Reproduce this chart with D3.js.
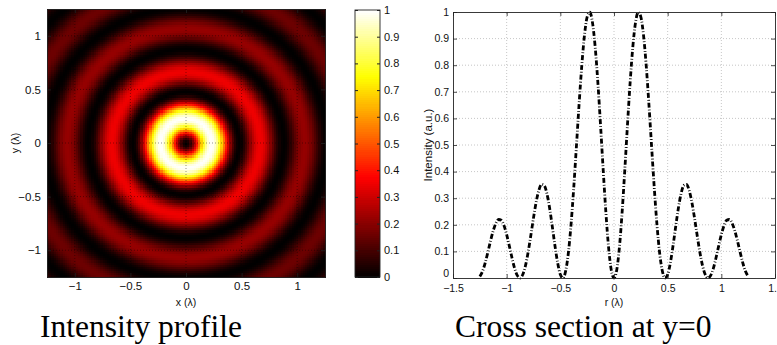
<!DOCTYPE html>
<html>
<head>
<meta charset="utf-8">
<script src="https://cdn.jsdelivr.net/npm/d3@7/dist/d3.min.js"></script>
<style>
  body { margin: 0; background: #fff; }
  svg { display: block; }
  text { font-family: "Liberation Sans", Arial, sans-serif; fill: #111; }
  .title { font-family: "Liberation Serif", "Times New Roman", serif; font-size: 31.5px; fill: #000; }
</style>
</head>
<body>
<svg id="chart" width="777" height="345"></svg>
<script>
const radius = [
  0, 0.025, 0.05, 0.075, 0.1, 0.125, 0.15, 0.175, 0.2, 0.225,
  0.25, 0.275, 0.3, 0.325, 0.35, 0.375, 0.4, 0.425, 0.45, 0.475,
  0.5, 0.525, 0.55, 0.575, 0.6, 0.625, 0.65, 0.675, 0.7, 0.725,
  0.75, 0.775, 0.8, 0.825, 0.85, 0.875, 0.9, 0.925, 0.95, 0.975,
  1.0, 1.025, 1.05, 1.075, 1.1, 1.125, 1.15, 1.175, 1.2, 1.225,
  1.25, 1.275, 1.3, 1.325, 1.35, 1.375, 1.4, 1.425, 1.45, 1.475,
  1.5, 1.525, 1.55, 1.575, 1.6, 1.625, 1.65, 1.675, 1.7, 1.725,
  1.75, 1.775, 1.8
];
const intensity = [
  0, 0.029, 0.113, 0.243, 0.402, 0.572, 0.733, 0.867, 0.959, 0.999,
  0.982, 0.913, 0.799, 0.655, 0.496, 0.340, 0.202, 0.095, 0.027, 0.000,
  0.013, 0.057, 0.121, 0.194, 0.263, 0.317, 0.348, 0.352, 0.330, 0.286,
  0.226, 0.160, 0.097, 0.046, 0.013, 0.000, 0.009, 0.035, 0.075, 0.120,
  0.163, 0.197, 0.217, 0.220, 0.206, 0.178, 0.140, 0.097, 0.057, 0.025,
  0.006, 0.000, 0.009, 0.030, 0.060, 0.092, 0.123, 0.146, 0.159, 0.159,
  0.147, 0.125, 0.096, 0.065, 0.037, 0.015, 0.002, 0.001, 0.010, 0.028,
  0.053, 0.079, 0.104
];
const crossMax = 1.25; // cross section is plotted for |r| <= 1.25

const mapTicks = [-1, -0.5, 0, 0.5, 1];
const colorbarTicks = [0, 0.1, 0.2, 0.3, 0.4, 0.5, 0.6, 0.7, 0.8, 0.9, 1];
const crossTicksX = [-1.5, -1, -0.5, 0, 0.5, 1, 1.5];
const crossTicksY = [0, 0.1, 0.2, 0.3, 0.4, 0.5, 0.6, 0.7, 0.8, 0.9, 1];
const titles = ["Intensity profile", "Cross section at y=0"];

const svg = d3.select("#chart");
const fmt = d => d3.format("")(d).replace("-", "\u2212");

// matlab "hot" colormap
const hot = d3.scaleLinear()
  .domain([0, 0.375, 0.75, 1])
  .range(["#000000", "#ff0000", "#ffff00", "#ffffff"])
  .clamp(true);

const profile = d3.scaleLinear().domain(radius).range(intensity).clamp(true);

// ---------- left: intensity map ----------
const mapX = d3.scaleLinear().domain([-1.25, 1.25]).range([47, 325]);
const mapY = d3.scaleLinear().domain([-1.25, 1.25]).range([277, 9]);

const step = 0.02;
const cells = [];
for (let gx = -1.25; gx < 1.25 - 1e-9; gx += step) {
  for (let gy = -1.25; gy < 1.25 - 1e-9; gy += step) {
    const cx = gx + step / 2, cy = gy + step / 2;
    cells.push({ x: gx, y: gy, v: profile(Math.hypot(cx, cy)) });
  }
}
const cw = mapX(step) - mapX(0), ch = mapY(0) - mapY(step);

svg.append("g")
  .attr("shape-rendering", "crispEdges")
  .selectAll("rect")
  .data(cells)
  .join("rect")
  .attr("x", d => mapX(d.x))
  .attr("y", d => mapY(d.y + step))
  .attr("width", cw + 0.6)
  .attr("height", ch + 0.6)
  .attr("fill", d => hot(d.v));

// dotted grid over the image
const mapGrid = svg.append("g")
  .attr("stroke", "#000")
  .attr("stroke-width", 0.7)
  .attr("stroke-dasharray", "1,2")
  .attr("stroke-opacity", 0.6);
mapTicks.forEach(t => {
  mapGrid.append("line").attr("x1", mapX(t)).attr("x2", mapX(t)).attr("y1", mapY(-1.25)).attr("y2", mapY(1.25));
  mapGrid.append("line").attr("y1", mapY(t)).attr("y2", mapY(t)).attr("x1", mapX(-1.25)).attr("x2", mapX(1.25));
});

function frame(x, y, opts) {
  const g = svg.append("g");
  g.append("g").attr("transform", `translate(0,${y.range()[0]})`)
    .call(d3.axisBottom(x).tickValues(opts.xt).tickFormat(fmt).tickSizeInner(-4).tickSizeOuter(0).tickPadding(opts.xPad));
  g.append("g").attr("transform", `translate(0,${y.range()[1]})`)
    .call(d3.axisTop(x).tickValues(opts.xt).tickFormat("").tickSizeInner(-4).tickSizeOuter(0));
  const left = g.append("g").attr("transform", `translate(${x.range()[0]},0)`)
    .call(d3.axisLeft(y).tickValues(opts.yt).tickFormat(fmt).tickSizeInner(-4).tickSizeOuter(0).tickPadding(opts.yPad));
  g.append("g").attr("transform", `translate(${x.range()[1]},0)`)
    .call(d3.axisRight(y).tickValues(opts.yt).tickFormat("").tickSizeInner(-4).tickSizeOuter(0));
  g.selectAll(".domain").attr("stroke", "#222").attr("stroke-width", 0.9);
  g.selectAll(".tick line").attr("stroke", "#222").attr("stroke-width", 0.8);
  g.selectAll("text").attr("font-size", opts.fs).attr("fill", "#111")
    .attr("font-family", "Liberation Sans, Arial, sans-serif");
  if (opts.liftZero) {
    left.selectAll(".tick text").filter(d => d === 0).attr("dy", "-0.1em");
  }
  return g;
}

frame(mapX, mapY, { xt: mapTicks, yt: mapTicks, fs: 11.5, xPad: 5, yPad: 6 });

svg.append("text")
  .attr("x", mapX(0)).attr("y", 306)
  .attr("text-anchor", "middle").attr("font-size", 10.5)
  .text("x (\u03bb)");
svg.append("text")
  .attr("transform", `translate(19,${mapY(0)}) rotate(-90)`)
  .attr("text-anchor", "middle").attr("font-size", 10.5)
  .text("y (\u03bb)");

// ---------- colorbar ----------
const cbY = d3.scaleLinear().domain([0, 1]).range([277, 10]);
const cbX0 = 355, cbX1 = 380;
const levels = d3.range(0, 1, 1 / 128);
svg.append("g")
  .attr("shape-rendering", "crispEdges")
  .selectAll("rect")
  .data(levels)
  .join("rect")
  .attr("x", cbX0)
  .attr("width", cbX1 - cbX0)
  .attr("y", d => cbY(d + 1 / 128))
  .attr("height", cbY(0) - cbY(1 / 128) + 0.6)
  .attr("fill", d => hot(d + 0.5 / 128));
svg.append("rect")
  .attr("x", cbX0).attr("y", cbY(1))
  .attr("width", cbX1 - cbX0).attr("height", cbY(0) - cbY(1))
  .attr("fill", "none").attr("stroke", "#222").attr("stroke-width", 0.9);
const cbAxis = svg.append("g").attr("transform", `translate(${cbX1},0)`)
  .call(d3.axisRight(cbY).tickValues(colorbarTicks).tickFormat(d3.format("")).tickSizeInner(-3).tickSizeOuter(0).tickPadding(4));
svg.append("g").attr("transform", `translate(${cbX0},0)`)
  .call(d3.axisLeft(cbY).tickValues(colorbarTicks).tickFormat("").tickSizeInner(-3).tickSizeOuter(0))
  .select(".domain").remove();
cbAxis.select(".domain").remove();
svg.selectAll(".tick line").attr("stroke", "#222");
cbAxis.selectAll("text").attr("font-size", 11).attr("fill", "#111")
  .attr("font-family", "Liberation Sans, Arial, sans-serif");

// ---------- right: cross section ----------
const crX = d3.scaleLinear().domain([-1.5, 1.5]).range([453, 775]);
const crY = d3.scaleLinear().domain([0, 1]).range([278, 12]);

const grid = svg.append("g")
  .attr("stroke", "#b8b8b8")
  .attr("stroke-width", 0.8)
  .attr("stroke-dasharray", "1,2");
crossTicksX.slice(1, -1).forEach(t => {
  grid.append("line").attr("x1", crX(t)).attr("x2", crX(t)).attr("y1", crY(0)).attr("y2", crY(1));
});
crossTicksY.slice(1, -1).forEach(t => {
  grid.append("line").attr("y1", crY(t)).attr("y2", crY(t)).attr("x1", crX(-1.5)).attr("x2", crX(1.5));
});

// mirror the radial samples onto negative r
const inRange = radius.map((r, i) => ({ r, v: intensity[i] })).filter(d => d.r <= crossMax + 1e-9);
const section = inRange.slice(1).reverse().map(d => ({ r: -d.r, v: d.v })).concat(inRange);

svg.append("path")
  .datum(section)
  .attr("fill", "none")
  .attr("stroke", "#000")
  .attr("stroke-width", 2.8)
  .attr("stroke-dasharray", "5,2,0.8,2")
  .attr("d", d3.line().x(d => crX(d.r)).y(d => crY(d.v)).curve(d3.curveMonotoneX));

frame(crX, crY, { xt: crossTicksX, yt: crossTicksY, fs: 10.5, xPad: 7, yPad: 4, liftZero: true });

svg.append("text")
  .attr("x", crX(0)).attr("y", 306)
  .attr("text-anchor", "middle").attr("font-size", 10.5)
  .text("r (\u03bb)");
svg.append("text")
  .attr("transform", `translate(432,${(crY(0) + crY(1)) / 2}) rotate(-90)`)
  .attr("text-anchor", "middle").attr("font-size", 11.5)
  .text("Intensity (a.u.)");

// ---------- captions ----------
svg.append("text").attr("class", "title").attr("x", 40).attr("y", 337).text(titles[0]);
svg.append("text").attr("class", "title").attr("x", 455).attr("y", 337).text(titles[1]);
</script>
</body>
</html>
